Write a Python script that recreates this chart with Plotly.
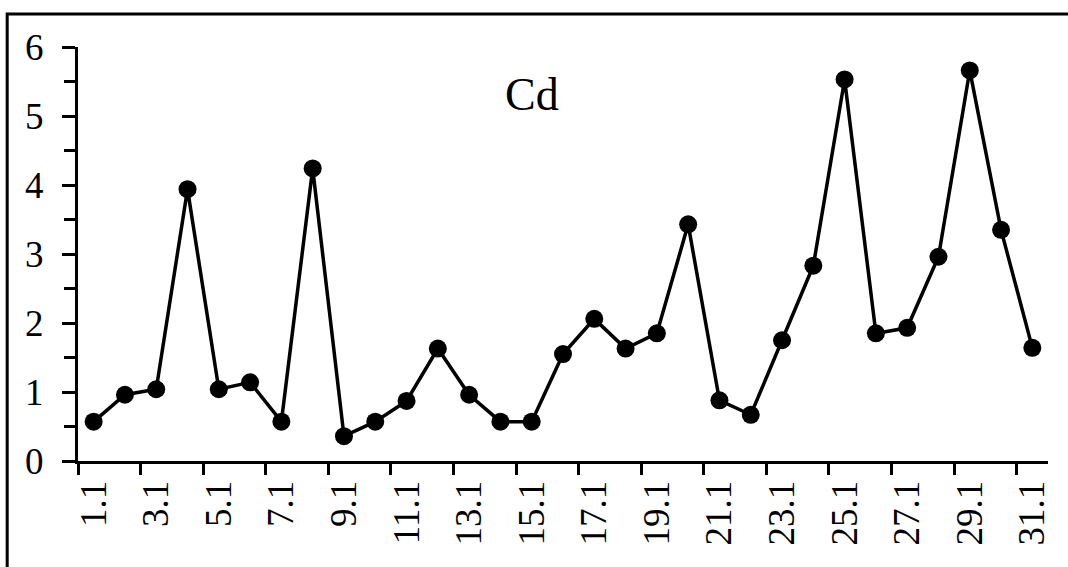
import plotly.graph_objects as go

# Daily Cd concentrations for January
days = ["1.1", "2.1", "3.1", "4.1", "5.1", "6.1", "7.1", "8.1", "9.1", "10.1",
        "11.1", "12.1", "13.1", "14.1", "15.1", "16.1", "17.1", "18.1", "19.1", "20.1",
        "21.1", "22.1", "23.1", "24.1", "25.1", "26.1", "27.1", "28.1", "29.1", "30.1", "31.1"]
cd = [0.57, 0.96, 1.04, 3.94, 1.04, 1.14, 0.57, 4.24, 0.36, 0.57,
      0.87, 1.63, 0.96, 0.57, 0.57, 1.55, 2.06, 1.63, 1.85, 3.43,
      0.88, 0.67, 1.75, 2.83, 5.53, 1.85, 1.93, 2.96, 5.66, 3.35, 1.64]
y_ticks = [0, 1, 2, 3, 4, 5, 6]

pos = list(range(1, len(days) + 1))
label_pos = pos[::2]
label_text = days[::2]
boundary_ticks = [p - 0.5 for p in label_pos]

font = "Liberation Serif"

fig = go.Figure()
fig.add_trace(go.Scatter(
    x=pos, y=cd, mode="lines+markers",
    line=dict(color="black", width=3.5),
    marker=dict(color="black", size=18),
    showlegend=False,
))

fig.update_layout(
    width=1068, height=567,
    margin=dict(l=78, r=20, t=47, b=106),
    paper_bgcolor="white", plot_bgcolor="white",
    font=dict(family=font, color="black", size=37),
    xaxis=dict(
        range=[0.5, len(days) + 0.5],
        tickmode="array", tickvals=label_pos, ticktext=label_text,
        ticks="", tickangle=-90,
        tickfont=dict(family=font, size=37),
        ticklabelstandoff=2,
        showline=True, linecolor="black", linewidth=3,
        showgrid=False, zeroline=False,
        minor=dict(tickmode="array", tickvals=boundary_ticks, ticks="outside",
                   ticklen=11, tickwidth=3, tickcolor="black", showgrid=False),
    ),
    yaxis=dict(
        range=[0, 6],
        tickmode="array", tickvals=y_ticks,
        ticks="outside", ticklen=13, tickwidth=3, tickcolor="black",
        tickfont=dict(family=font, size=37),
        ticklabelstandoff=11,
        showline=True, linecolor="black", linewidth=3,
        showgrid=False, zeroline=False,
        minor=dict(dtick=0.5, ticks="outside", ticklen=11, tickwidth=3,
                   tickcolor="black", showgrid=False),
    ),
    shapes=[dict(type="rect", xref="paper", yref="paper",
                 x0=-0.073, y0=-0.5, x1=1.2, y1=1.08,
                 line=dict(color="black", width=3), fillcolor="rgba(0,0,0,0)",
                 layer="below")],
    annotations=[dict(text="Cd", x=0.468, y=0.952, xref="paper", yref="paper",
                      showarrow=False, font=dict(family=font, size=46))],
)

fig.write_html("out.html")
